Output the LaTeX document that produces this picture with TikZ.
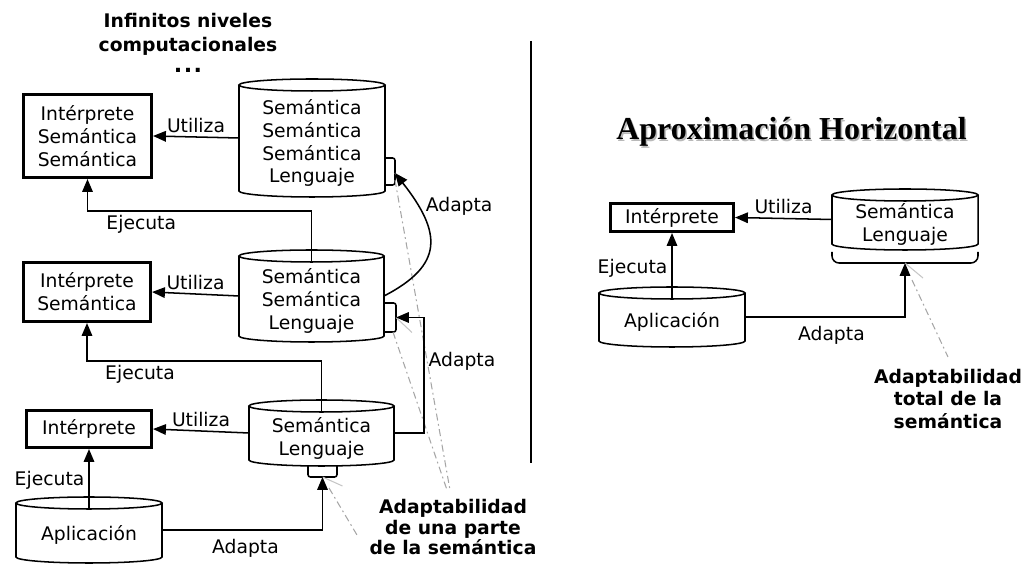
\documentclass[tikz,border=0pt]{standalone}
\usepackage{fontspec}
\setmainfont{DejaVu Sans}
\newfontfamily\titulofont{Liberation Serif}
\usetikzlibrary{
	arrows.meta,
	calc
}

\tikzset{
	flecha/.style={-{Triangle[length=11pt,width=9pt]}, line width=1.3pt},
	linea/.style={line width=1.3pt},
	interp/.style={draw, line width=2.6pt, align=center, inner sep=2pt},
	cuerpo/.style={inner sep=0pt, outer sep=0pt},
	texto/.style={align=center, inner sep=1pt, yshift=-0.15cm},
	guia/.style={gray!70, line width=0.9pt, dash pattern=on 6pt off 3pt on 1.5pt off 3pt},
	guiacorta/.style={gray!45, line width=0.9pt},
	nota/.style={font=\bfseries\fontsize{16}{17.5}\selectfont, align=center}
}

% cilindro alrededor de un nodo: #1 nodo, #2 semieje horizontal
\newcommand{\cilindro}[2]{%
	\draw[linea] (#1.north west) -- (#1.south west)
		arc[start angle=180, end angle=360, x radius=#2, y radius=0.18cm]
		-- (#1.north east);
	\draw[linea] (#1.north) ellipse[x radius=#2, y radius=0.18cm];
}

\begin{document}
\begin{tikzpicture}[x=0.03cm, y=0.03cm, font=\fontsize{16}{19.6}\selectfont]
	\useasboundingbox (0,0) rectangle (1025,565);

	% ---- aproximacion vertical (izquierda) ----
	\node[nota, font=\bfseries\fontsize{16}{20.5}\selectfont] (niveles) at (188,522)
		{Infinitos niveles\\computacionales\\[-2pt]{\fontsize{19}{19}\selectfont.\kern1.2pt.\kern1.2pt.}};

	\node[interp, minimum width=3.84cm, minimum height=2.49cm] (int3) at (87.5,429)
		{Intérprete\\Semántica\\Semántica};
	\node[interp, minimum width=3.81cm, minimum height=1.77cm] (int2) at (87,273)
		{Intérprete\\Semántica};
	\node[interp, minimum width=3.75cm, minimum height=1.11cm] (int1) at (89,136)
		{Intérprete};

	\node[cuerpo, minimum width=4.38cm, minimum height=3.18cm,
		label={[texto]center:Semántica\\Semántica\\Semántica\\Lenguaje}] (sem3) at (312,427) {};
	\node[cuerpo, minimum width=4.35cm, minimum height=2.40cm,
		label={[texto]center:Semántica\\Semántica\\Lenguaje}] (sem2) at (311.5,269) {};
	\node[cuerpo, minimum width=4.35cm, minimum height=1.62cm,
		label={[texto]center:Semántica\\Lenguaje}] (sem1) at (321.5,132) {};
	\node[cuerpo, minimum width=4.38cm, minimum height=1.62cm,
		label={[texto]center:Aplicación}] (apl) at (89,35) {};
	\cilindro{sem3}{2.19cm}
	\cilindro{sem2}{2.175cm}
	\cilindro{sem1}{2.175cm}
	\cilindro{apl}{2.19cm}

	% pestanas
	\draw[linea, rounded corners=2pt] (385,407) -- (395,407) -- (395,380) -- (385,380);
	\draw[linea, rounded corners=2pt] (385,262) -- (396,262) -- (396,233) -- (385,233);
	\draw[linea, rounded corners=2pt] (308,99) -- (308,88) -- (337,88) -- (337,99);
	\coordinate (t3) at (395,392);
	\coordinate (t2) at (396,247.5);
	\coordinate (t1) at (322.5,88);

	\node[nota] (adapL) at (453,37.5) {Adaptabilidad\\de una parte\\de la semántica};
	\coordinate (g3) at (450,75);
	\coordinate (g2) at (447,75);
	\coordinate (g1) at (357,30);
	\draw[guia] ($(t3)+(0,-7)$) -- (g3);
	\draw[guia] ($(t2)+(-3,-14.5)$) -- (g2);
	\draw[guia] ($(t1)+(6.5,-11)$) -- (g1);
	\draw[guiacorta] (t3) -- ++(10,-14);
	\draw[guiacorta] (t2) -- ++(16,-15);
	\draw[guiacorta] (t1) -- ++(20,-9);

	\draw[flecha] (sem3.west) -- node[above] {Utiliza} (int3.east);
	\draw[flecha] (sem2.west) -- node[above] {Utiliza} (int2.east);
	\draw[flecha] (sem1.west) -- node[above] {Utiliza} (int1.east);

	\draw[flecha] ($(sem2.north)+(0,-6)$) -- ++(0,51) -| node[pos=0.38, below] {Ejecuta} (int3.south);
	\draw[flecha] ($(sem1.north)+(0,-6)$) -- ++(0,51) -| node[pos=0.387, below] {Ejecuta} (int2.south);
	\draw[flecha] ($(apl.north)+(0,-6)$) -- node[pos=0.47, left] {Ejecuta} (int1.south);

	\draw[flecha] (apl.east) -| node[pos=0.26, below=4pt] {Adapta} (t1);
	\draw[flecha] (sem1.east) -- ++(30,0) |- node[pos=0.31, right] {Adapta} (t2);
	\draw[flecha] (sem2.east) .. controls (444,300) and (442,332) .. (t3)
		node[pos=0.8, right, xshift=3pt] {Adapta};

	% separador
	\draw[line width=1.3pt] (531,524) -- (531,102);

	% ---- aproximacion horizontal (derecha) ----
	\node[font=\titulofont\bfseries\fontsize{27.3}{30}\selectfont, text=gray!55] at (793,431.5)
		{Aproximación Horizontal};
	\node[font=\titulofont\bfseries\fontsize{27.3}{30}\selectfont] (titulo) at (791.5,433)
		{Aproximación Horizontal};

	\node[interp, minimum width=3.69cm, minimum height=0.84cm] (intR) at (672,347.5)
		{Intérprete};
	\node[cuerpo, minimum width=4.38cm, minimum height=1.47cm,
		label={[texto]center:Semántica\\Lenguaje}] (semR) at (905,345.5) {};
	\node[cuerpo, minimum width=4.38cm, minimum height=1.44cm,
		label={[texto]center:Aplicación}] (aplR) at (672,248) {};
	\cilindro{semR}{2.19cm}
	\cilindro{aplR}{2.19cm}
	\draw[linea, rounded corners=6pt] (832,313) -- (832,302) -- (978,302) -- (978,313);
	\coordinate (tR) at (905,302);

	\node[nota, font=\bfseries\fontsize{16}{19.6}\selectfont] (adapR) at (948,166)
		{Adaptabilidad\\total de la\\semántica};
	\coordinate (gR) at (948,208);
	\draw[guia] ($(tR)+(7,-17)$) -- (gR);
	\draw[guiacorta] (tR) -- ++(18,-15);

	\draw[flecha] (semR.west) -- node[above] {Utiliza} (intR.east);
	\draw[flecha] ($(aplR.north)+(0,-6)$) -- node[pos=0.46, left] {Ejecuta} (intR.south);
	\draw[flecha] (aplR.east) -| node[pos=0.27, below=4pt] {Adapta} (tR);
\end{tikzpicture}
\end{document}
